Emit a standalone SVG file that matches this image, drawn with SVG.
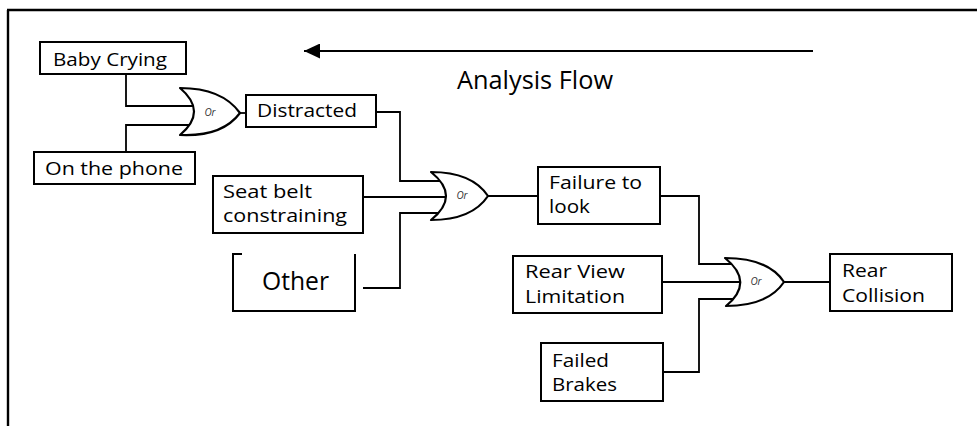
<svg xmlns="http://www.w3.org/2000/svg" width="977" height="426" viewBox="0 0 977 426">
  <defs>
    <marker id="arrowHead" viewBox="0 0 16 15" refX="16" refY="7.5" markerWidth="16" markerHeight="15" markerUnits="userSpaceOnUse" orient="auto">
      <path d="M0,0 L16,7.5 L0,15 Z" fill="#000"/>
    </marker>
  </defs>
  <style>
    .box { fill: #fff; stroke: #000; stroke-width: 2; }
    .gate { fill: #fff; stroke: #000; stroke-width: 2.2; stroke-linejoin: round; }
    .wire { fill: none; stroke: #000; stroke-width: 1.8; }
    .lbl { font-family: "Open Sans", "Noto Sans", "Liberation Sans", sans-serif; font-size: 19px; fill: #000; }
    .or { font-family: "Open Sans", "Liberation Sans", sans-serif; font-size: 10px; font-style: italic; fill: #333; text-anchor: middle; }
  </style>
  <rect width="977" height="426" fill="#fff"/>

  <!-- frame: top and left edges only -->
  <path d="M7,10 H977 M8,10 V426" fill="none" stroke="#000" stroke-width="2.4"/>

  <!-- analysis direction -->
  <g id="analysis-flow">
    <path d="M813,51 H304" fill="none" stroke="#000" stroke-width="2" marker-end="url(#arrowHead)"/>
    <text x="457" y="89" font-family="Open Sans, Noto Sans, Liberation Sans, sans-serif" font-size="25px" textLength="156" lengthAdjust="spacingAndGlyphs">Analysis Flow</text>
  </g>

  <g id="connectors">
    <path class="wire" d="M126,74 V106 H195"/>
    <path class="wire" d="M126,152 V125 H192"/>
    <path class="wire" d="M240,113 H246"/>
    <path class="wire" d="M376,112 H400 V181 H444"/>
    <path class="wire" d="M363,197 H450"/>
    <path class="wire" d="M363,288 H400 V213 H444"/>
    <path class="wire" d="M488,196 H538"/>
    <path class="wire" d="M660,196 H699 V264 H738"/>
    <path class="wire" d="M662,282 H744"/>
    <path class="wire" d="M663,372 H699 V299 H738"/>
    <path class="wire" d="M784,282 H830"/>
  </g>

  <g id="baby-crying">
    <rect class="box" x="40" y="42" width="146" height="32"/>
    <text class="lbl" x="53" y="66" textLength="114" lengthAdjust="spacingAndGlyphs">Baby Crying</text>
  </g>

  <g id="on-the-phone">
    <rect class="box" x="34" y="152" width="161" height="32"/>
    <text class="lbl" x="45" y="175" textLength="138" lengthAdjust="spacingAndGlyphs">On the phone</text>
  </g>

  <g id="gate-distracted">
    <path class="gate" d="M180,88 Q208,111.5 180,135 Q222,137 240,113 Q222,88 180,88 Z"/>
    <text class="or" x="210" y="116">Or</text>
  </g>

  <g id="distracted">
    <rect class="box" x="246" y="95" width="130" height="32"/>
    <text class="lbl" x="257" y="117" textLength="100" lengthAdjust="spacingAndGlyphs">Distracted</text>
  </g>

  <g id="seat-belt">
    <rect class="box" x="213" y="176" width="150" height="57"/>
    <text class="lbl" x="223" y="198" textLength="89" lengthAdjust="spacingAndGlyphs">Seat belt</text>
    <text class="lbl" x="223" y="222" textLength="124" lengthAdjust="spacingAndGlyphs">constraining</text>
  </g>

  <g id="other">
    <path d="M242,254 H233 V311 H355 V254" fill="none" stroke="#000" stroke-width="2"/>
    <text x="262" y="290" font-family="Open Sans, Noto Sans, Liberation Sans, sans-serif" font-size="25px" textLength="67" lengthAdjust="spacingAndGlyphs">Other</text>
  </g>

  <g id="gate-failure">
    <path class="gate" d="M431,172 Q461,196 431,220 Q472,220 488,196 Q472,172 431,172 Z"/>
    <text class="or" x="462" y="199">Or</text>
  </g>

  <g id="failure-to-look">
    <rect class="box" x="538" y="167" width="122" height="57"/>
    <text class="lbl" x="549" y="189" textLength="93" lengthAdjust="spacingAndGlyphs">Failure to</text>
    <text class="lbl" x="549" y="213" textLength="41" lengthAdjust="spacingAndGlyphs">look</text>
  </g>

  <g id="rear-view">
    <rect class="box" x="513" y="256" width="149" height="57"/>
    <text class="lbl" x="525" y="278" textLength="100" lengthAdjust="spacingAndGlyphs">Rear View</text>
    <text class="lbl" x="525" y="303" textLength="100" lengthAdjust="spacingAndGlyphs">Limitation</text>
  </g>

  <g id="failed-brakes">
    <rect class="box" x="541" y="343" width="122" height="58"/>
    <text class="lbl" x="552" y="367" textLength="57" lengthAdjust="spacingAndGlyphs">Failed</text>
    <text class="lbl" x="552" y="391" textLength="65" lengthAdjust="spacingAndGlyphs">Brakes</text>
  </g>

  <g id="gate-collision">
    <path class="gate" d="M725,258 Q755,282 726,306 Q768,306 784,282 Q768,258 725,258 Z"/>
    <text class="or" x="756" y="285">Or</text>
  </g>

  <g id="rear-collision">
    <rect class="box" x="830" y="254" width="122" height="57"/>
    <text class="lbl" x="842" y="277" textLength="45" lengthAdjust="spacingAndGlyphs">Rear</text>
    <text class="lbl" x="842" y="302" textLength="83" lengthAdjust="spacingAndGlyphs">Collision</text>
  </g>
</svg>
